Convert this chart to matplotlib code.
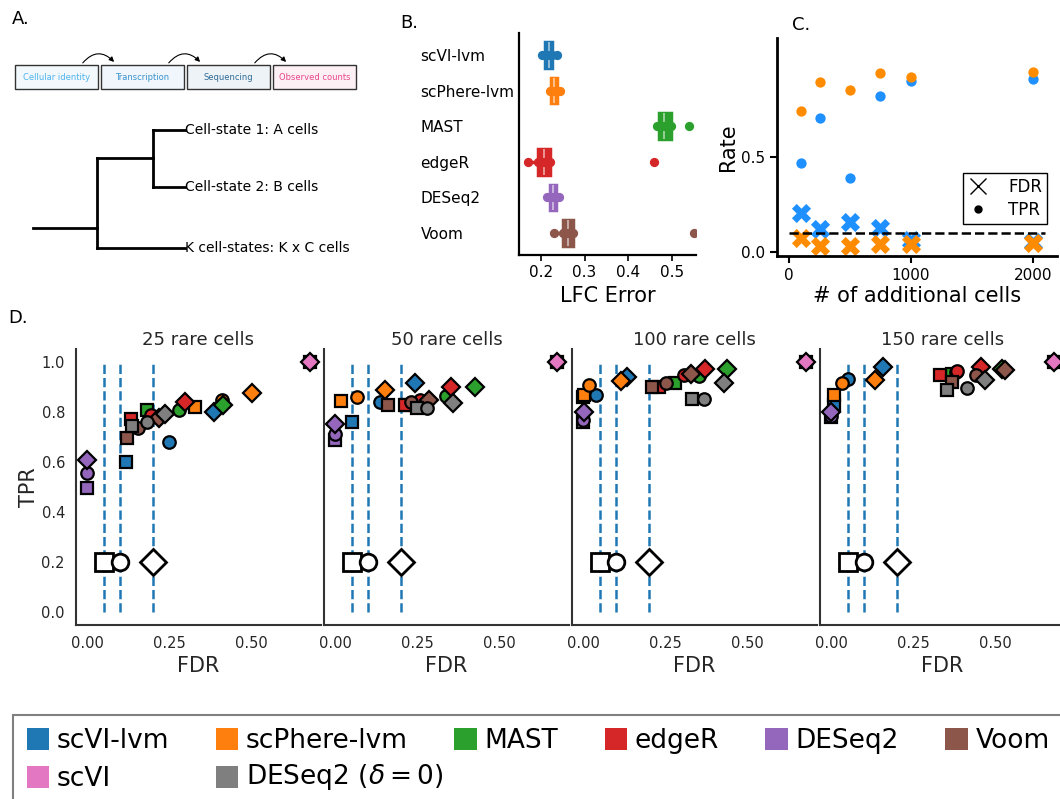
import numpy as np
import matplotlib
matplotlib.use("Agg")
import matplotlib.pyplot as plt
from matplotlib.patches import Rectangle, FancyArrowPatch, Patch
from matplotlib.lines import Line2D

W, H = 1060, 799

methods = ["scVI-lvm", "scPhere-lvm", "MAST", "edgeR", "DESeq2", "Voom", "scVI", r"DESeq2 ($\delta = 0$)"]
colors = ["#1f77b4", "#ff7f0e", "#2ca02c", "#d62728", "#9467bd", "#8c564b", "#e377c2", "#7f7f7f"]

# panel A: generative process + cell-state tree
steps = ["Cellular identity", "Transcription", "Sequencing", "Observed counts"]
step_text_colors = ["#4fb4ee", "#3a93cf", "#2f6b98", "#e8478b"]
step_face_colors = ["#f2f8fc", "#f0f6fb", "#eef3f7", "#fdf0f5"]
tree_labels = ["Cell-state 1: A cells", "Cell-state 2: B cells", "K cell-states: K x C cells"]

# panel B: LFC error per method
lfc_methods = methods[:6]
lfc_err = [
    [0.202, 0.210, 0.218, 0.226, 0.237],
    [0.220, 0.224, 0.230, 0.237, 0.243],
    [0.466, 0.471, 0.482, 0.497, 0.538],
    [0.170, 0.193, 0.208, 0.220, 0.458],
    [0.215, 0.222, 0.228, 0.234, 0.241],
    [0.231, 0.250, 0.262, 0.274, 0.551],
]

# panel C: rates vs number of additional cells
extra_cells = [100, 250, 500, 750, 1000, 2000]
tpr_scvi = [0.467, 0.703, 0.390, 0.822, 0.899, 0.909]
tpr_scphere = [0.741, 0.895, 0.851, 0.942, 0.921, 0.946]
fdr_scvi = [0.205, 0.121, 0.156, 0.129, 0.065, 0.056]
fdr_scphere = [0.072, 0.033, 0.030, 0.044, 0.044, 0.047]

# panel D: FDR / TPR at target FDR 0.05 (square), 0.1 (circle), 0.2 (diamond)
rare_cells = [25, 50, 100, 150]
fdr_targets = [0.05, 0.1, 0.2]
target_markers = ["s", "o", "D"]

fdr_25 = [[0.118, 0.249, 0.388], [0.330, 0.410, 0.504], [0.184, 0.281, 0.415], [0.135, 0.196, 0.298],
          [0.000, 0.000, 0.000], [0.120, 0.155, 0.220], [0.679, 0.679, 0.679], [0.137, 0.181, 0.236]]
tpr_25 = [[0.600, 0.680, 0.797], [0.818, 0.846, 0.876], [0.805, 0.805, 0.828], [0.770, 0.786, 0.840],
          [0.497, 0.553, 0.607], [0.696, 0.736, 0.773], [1.000, 1.000, 1.000], [0.741, 0.760, 0.789]]

fdr_50 = [[0.050, 0.138, 0.242], [0.019, 0.068, 0.152], [0.215, 0.339, 0.426], [0.212, 0.258, 0.352],
          [0.000, 0.000, 0.000], [0.162, 0.231, 0.287], [0.677, 0.677, 0.677], [0.251, 0.279, 0.360]]
tpr_50 = [[0.757, 0.837, 0.915], [0.844, 0.860, 0.885], [0.828, 0.861, 0.900], [0.828, 0.845, 0.900],
          [0.686, 0.710, 0.750], [0.828, 0.838, 0.848], [1.000, 1.000, 1.000], [0.814, 0.816, 0.834]]

fdr_100 = [[0.000, 0.038, 0.134], [0.002, 0.018, 0.115], [0.280, 0.354, 0.440], [0.232, 0.307, 0.370],
           [0.000, 0.000, 0.002], [0.209, 0.252, 0.330], [0.679, 0.679, 0.679], [0.331, 0.369, 0.429]]
tpr_100 = [[0.860, 0.867, 0.937], [0.867, 0.907, 0.924], [0.915, 0.944, 0.971], [0.899, 0.947, 0.971],
           [0.757, 0.766, 0.797], [0.899, 0.915, 0.952], [1.000, 1.000, 1.000], [0.850, 0.850, 0.915]]

fdr_150 = [[0.010, 0.051, 0.158], [0.010, 0.034, 0.134], [0.368, 0.380, 0.522], [0.333, 0.384, 0.458],
           [0.001, 0.001, 0.001], [0.368, 0.443, 0.529], [0.678, 0.678, 0.678], [0.352, 0.414, 0.468]]
tpr_150 = [[0.828, 0.931, 0.977], [0.868, 0.915, 0.925], [0.950, 0.960, 0.971], [0.947, 0.963, 0.977],
           [0.780, 0.784, 0.797], [0.917, 0.947, 0.965], [1.000, 1.000, 1.000], [0.885, 0.893, 0.925]]

fdr_d = [fdr_25, fdr_50, fdr_100, fdr_150]
tpr_d = [tpr_25, tpr_50, tpr_100, tpr_150]


fig = plt.figure(figsize=(W / 100, H / 100), dpi=100)

# ---- A ----
ax_a = fig.add_axes([0, 1 - 290 / H, 380 / W, 290 / H])
ax_a.set_xlim(0, 380)
ax_a.set_ylim(290, 0)
ax_a.axis("off")
box_x = [15, 101, 187, 273]
for x, s, tc, fc in zip(box_x, steps, step_text_colors, step_face_colors):
    ax_a.add_patch(Rectangle((x, 65), 83, 24, facecolor=fc, edgecolor="#333333", lw=1))
    ax_a.text(x + 41.5, 77.5, s, color=tc, fontsize=6, ha="center", va="center")
for i in range(3):
    ax_a.add_patch(FancyArrowPatch((box_x[i] + 66, 65), (box_x[i + 1] + 15, 64),
                                   connectionstyle="arc3,rad=-0.6", arrowstyle="-|>",
                                   mutation_scale=7, lw=0.8, color="k"))

# tree: root -> (A/B clade, K clade)
tree_segments = [((33, 97), (228, 228)), ((97, 97), (158, 248)), ((97, 153), (158, 158)),
                 ((153, 153), (130, 187)), ((153, 185), (130, 130)), ((153, 185), (187, 187)),
                 ((97, 185), (248, 248))]
for xs, ys in tree_segments:
    ax_a.plot(xs, ys, color="k", lw=2, solid_capstyle="projecting")
for y, lbl in zip([130, 187, 248], tree_labels):
    ax_a.text(185, y, lbl, fontsize=10, va="center", ha="left")

fig.text(12 / W, 1 - 19 / H, "A.", fontsize=13, va="center")
fig.text(400 / W, 1 - 23 / H, "B.", fontsize=13, va="center")
fig.text(792 / W, 1 - 25 / H, "C.", fontsize=13, va="center")
fig.text(8 / W, 1 - 318 / H, "D.", fontsize=13, va="center")

# ---- B ----
ax_b = fig.add_axes([519 / W, 1 - 255 / H, 177 / W, 222 / H])
pos = np.arange(len(lfc_methods))
bp = ax_b.boxplot(lfc_err, positions=pos, orientation="horizontal", widths=0.72,
                  patch_artist=True, showcaps=False, showfliers=False)
for i, c in enumerate(colors[:6]):
    bp["boxes"][i].set(facecolor=c, edgecolor=c, lw=2.5)
    bp["medians"][i].set(color="white", alpha=0.6, lw=1.2)
    for w in bp["whiskers"][2 * i:2 * i + 2]:
        w.set(color=c, lw=2.5)
    ax_b.scatter(lfc_err[i], [i] * len(lfc_err[i]), color=c, s=32, zorder=3)
ax_b.set_yticks(pos, lfc_methods)
ax_b.set_ylim(5.62, -0.62)
ax_b.set_xlim(0.15, 0.555)
ax_b.set_xticks([0.2, 0.3, 0.4, 0.5])
ax_b.tick_params(axis="y", length=0, pad=71, labelsize=11)
ax_b.tick_params(axis="x", length=4, width=1.2, labelsize=11)
for lbl in ax_b.get_yticklabels():
    lbl.set_ha("left")
for s in ["top", "right"]:
    ax_b.spines[s].set_visible(False)
for s in ["left", "bottom"]:
    ax_b.spines[s].set_linewidth(1.6)
ax_b.set_xlabel("LFC Error", fontsize=15, labelpad=4)

# ---- C ----
blue_c, orange_c = "#1e90ff", "#ff8c00"
ax_c = fig.add_axes([777 / W, 1 - 256 / H, 280 / W, 218 / H])
ax_c.scatter(extra_cells, tpr_scvi, color=blue_c, s=55, lw=0)
ax_c.scatter(extra_cells, tpr_scphere, color=orange_c, s=55, lw=0)
ax_c.scatter(extra_cells, fdr_scvi, color=blue_c, marker="X", s=190, lw=0)
ax_c.scatter(extra_cells, fdr_scphere, color=orange_c, marker="X", s=190, lw=0)
ax_c.hlines(0.1, 0, 2100, colors="k", linestyles="--", lw=1.8, zorder=4)
ax_c.set_xlim(-100, 2200)
ax_c.set_ylim(-0.02, 1.125)
ax_c.set_xticks([0, 1000, 2000])
ax_c.set_yticks([0, 0.5])
ax_c.tick_params(length=5, width=1.5, labelsize=11)
for s in ["top", "right"]:
    ax_c.spines[s].set_visible(False)
for s in ["left", "bottom"]:
    ax_c.spines[s].set_linewidth(2)
ax_c.set_xlabel("# of additional cells", fontsize=15, labelpad=2)
ax_c.set_ylabel("Rate", fontsize=15, labelpad=2)
leg_c = ax_c.legend(handles=[Line2D([], [], ls="", marker="x", color="k", markersize=11, mew=1),
                             Line2D([], [], ls="", marker="o", color="k", markersize=5)],
                    labels=["FDR", "TPR"], loc="upper right", bbox_to_anchor=(0.995, 0.42),
                    fontsize=12, fancybox=False, edgecolor="k", framealpha=1,
                    handletextpad=1.2, borderpad=0.3, labelspacing=0.3, handlelength=1.2)
leg_c.get_frame().set_linewidth(1)

# ---- D ----
grey_txt = "#262626"
for k, n in enumerate(rare_cells):
    ax = fig.add_axes([(76 + k * 248) / W, 1 - 624.5 / H, 245 / W, 275.5 / H])
    ax.set_facecolor("white")
    for t in fdr_targets:
        ax.plot([t, t], [0, 1], color="#1f77b4", ls="--", lw=1.8, zorder=1)
    for t, m in zip(fdr_targets, target_markers):
        ax.plot(t, 0.2, marker=m, ls="", markersize=13 if m != "o" else 12,
                mfc="white", mec="k", mew=2, zorder=2)
    for j, c in enumerate(colors):
        for q, m in enumerate(target_markers):
            ax.plot(fdr_d[k][j][q], tpr_d[k][j][q], marker=m, ls="", color=c,
                    markersize=9 if m != "D" else 9.5, mec="k", mew=1.6, zorder=3)
    ax.set_xlim(-0.034, 0.713)
    ax.set_ylim(-0.05, 1.05)
    ax.set_xticks([0, 0.25, 0.5], ["0.00", "0.25", "0.50"])
    ax.set_yticks(np.arange(0, 1.01, 0.2))
    ax.tick_params(length=0, labelsize=10.5, labelcolor=grey_txt, pad=8)
    for s in ["top", "right"]:
        ax.spines[s].set_visible(False)
    for s in ["left", "bottom"]:
        ax.spines[s].set_linewidth(1.5)
        ax.spines[s].set_color("#333333")
    ax.set_title(f"{n} rare cells", fontsize=13, color=grey_txt, pad=1)
    ax.set_xlabel("FDR", fontsize=15, color=grey_txt, labelpad=4)
    if k == 0:
        ax.set_yticklabels(["0.0", "0.2", "0.4", "0.6", "0.8", "1.0"])
        ax.set_ylabel("TPR", fontsize=15, color=grey_txt, labelpad=2)
    else:
        ax.set_yticklabels([])

# legend filled row by row: matplotlib fills columns, so interleave the second row.
# the last label is drawn next to its patch so it does not widen its column.
order = [0, 6, 1, 7, 2, 3, 4, 5]
handles = [Patch(facecolor=colors[i], edgecolor="none") for i in order]
labels = [methods[i] if i != 7 else "" for i in order]
leg_fs = 19
leg = fig.legend(handles=handles, labels=labels, loc="upper left",
                 bbox_to_anchor=(13.5 / W, 1 - 715 / H), ncol=6, fontsize=leg_fs,
                 fancybox=False, edgecolor="#808080", framealpha=1, borderaxespad=0,
                 handlelength=0.85, handleheight=0.9, handletextpad=0.3,
                 borderpad=0.5, columnspacing=1.75, labelspacing=0.45)
leg.get_frame().set_linewidth(1.5)

fig.canvas.draw()
renderer = fig.canvas.get_renderer()
col2_txt = leg.get_texts()[order.index(1)].get_window_extent(renderer)
row2_txt = leg.get_texts()[order.index(6)].get_window_extent(renderer)
fig.text(col2_txt.x0 / W, row2_txt.y0 / H, methods[7],
         fontsize=leg_fs, ha="left", va="bottom", zorder=10)

fig.savefig("out.png", dpi=100)
